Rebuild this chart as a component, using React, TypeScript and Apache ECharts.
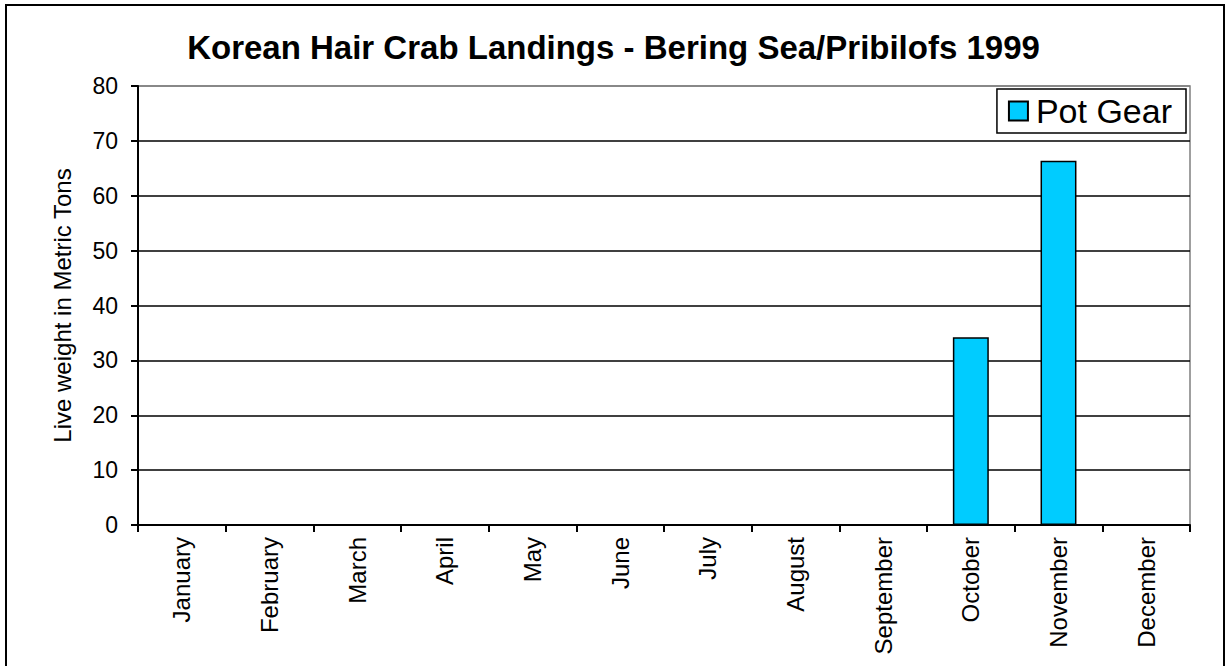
import React, { useEffect, useRef } from "react";
import * as echarts from "echarts";

const TITLE = "Korean Hair Crab Landings - Bering Sea/Pribilofs 1999";
const MONTHS = [
  "January", "February", "March", "April", "May", "June",
  "July", "August", "September", "October", "November", "December",
];
const POT_GEAR = [0, 0, 0, 0, 0, 0, 0, 0, 0, 34.2, 66.4, 0];
const SERIES_NAME = "Pot Gear";
const Y_NAME = "Live weight in Metric Tons";

const FONT = "'Liberation Sans', Arial, Helvetica, sans-serif";

export default function App() {
  const ref = useRef<HTMLDivElement>(null);
  useEffect(() => {
    document.body.style.margin = "0";
    const chart = echarts.init(ref.current!, undefined, { renderer: "svg" });
    chart.setOption({
      animation: false,
      backgroundColor: "#ffffff",
      textStyle: { fontFamily: FONT },
      title: {
        text: TITLE,
        left: "center",
        top: 26,
        textStyle: { fontFamily: FONT, fontSize: 33, fontWeight: "bold", color: "#000" },
      },
      legend: {
        right: 41,
        top: 89,
        orient: "vertical",
        itemWidth: 19,
        itemHeight: 19,
        backgroundColor: "#fff",
        borderColor: "#000",
        borderWidth: 1.5,
        borderRadius: 0,
        padding: [5, 14, 5, 11],
        icon: "rect",
        textStyle: { fontFamily: FONT, fontSize: 34, color: "#000", padding: [0, 0, 0, 3] },
        data: [SERIES_NAME],
      },
      grid: {
        left: 138,
        right: 37,
        top: 86,
        bottom: 141,
        show: true,
        borderColor: "#808080",
        borderWidth: 1.5,
        containLabel: false,
      },
      xAxis: {
        type: "category",
        data: MONTHS,
        boundaryGap: true,
        axisLine: { show: true, lineStyle: { color: "#000", width: 2 } },
        axisTick: { show: true, alignWithLabel: false, length: 7, lineStyle: { color: "#000", width: 2 } },
        axisLabel: {
          rotate: 90,
          margin: 12,
          interval: 0,
          fontFamily: FONT,
          fontSize: 24,
          color: "#000",
        },
        splitLine: { show: false },
      },
      yAxis: {
        type: "value",
        min: 0,
        max: 80,
        interval: 10,
        name: Y_NAME,
        nameLocation: "middle",
        nameGap: 64,
        nameRotate: 90,
        nameTextStyle: { fontFamily: FONT, fontSize: 24, color: "#000" },
        axisLine: { show: true, lineStyle: { color: "#000", width: 2 } },
        axisTick: { show: true, length: 7, lineStyle: { color: "#000", width: 2 } },
        axisLabel: { margin: 20, fontFamily: FONT, fontSize: 23, color: "#000" },
        splitLine: {
          show: true,
          lineStyle: {
            color: ["#000", "#000", "#000", "#000", "#000", "#000", "#000", "#000", "#808080"],
            width: 1.5,
          },
        },
      },
      series: [
        {
          name: SERIES_NAME,
          type: "bar",
          data: POT_GEAR,
          barWidth: "41%",
          itemStyle: { color: "#00CCFF", borderColor: "#000", borderWidth: 1.5 },
        },
      ],
      graphic: [
        {
          type: "rect",
          shape: { x: 6, y: 5, width: 1218, height: 800 },
          style: { fill: "none", stroke: "#000", lineWidth: 2 },
          silent: true,
          z: 100,
        },
      ],
    });
    return () => chart.dispose();
  }, []);
  return <div ref={ref} style={{ width: 1227, height: 666 }} />;
}
